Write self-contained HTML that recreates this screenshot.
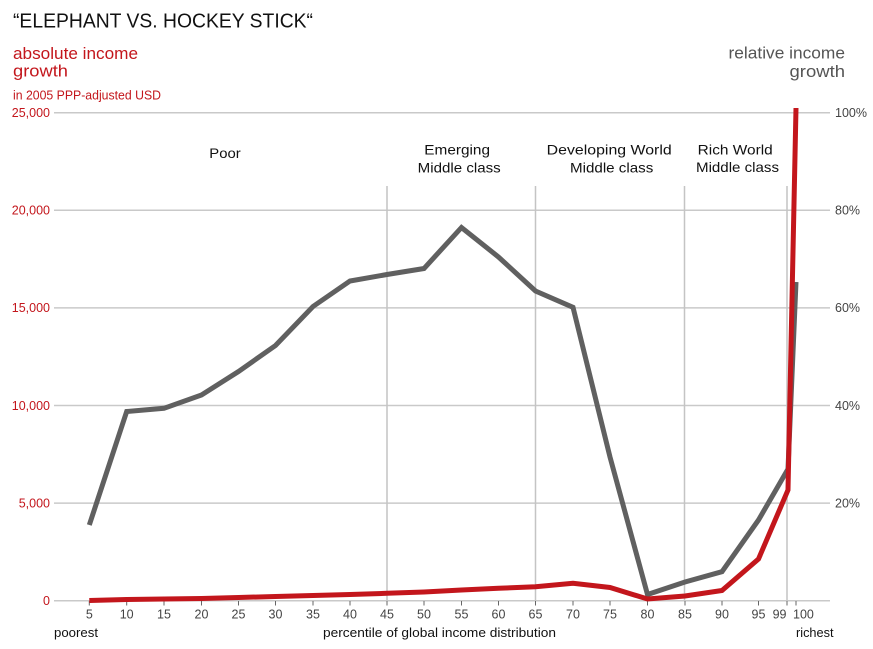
<!DOCTYPE html>
<html>
<head>
<meta charset="utf-8">
<style>
  html,body{margin:0;padding:0;background:#fff;}
  svg{display:block;}
  text{font-family:"Liberation Sans", "DejaVu Sans", sans-serif;}
</style>
</head>
<body>
<svg width="873" height="649" viewBox="0 0 873 649" xmlns="http://www.w3.org/2000/svg">
  <rect width="873" height="649" fill="#fff"/>

  <!-- Title -->
  <text x="13" y="27.5" font-size="20.5" fill="#111" textLength="300" lengthAdjust="spacingAndGlyphs">“ELEPHANT VS. HOCKEY STICK“</text>

  <!-- Left axis title -->
  <text x="13" y="59" font-size="16.5" fill="#c3161c" textLength="125" lengthAdjust="spacingAndGlyphs">absolute income</text>
  <text x="13" y="76.5" font-size="16.5" fill="#c3161c" textLength="55" lengthAdjust="spacingAndGlyphs">growth</text>
  <text x="13" y="99.5" font-size="12.5" fill="#c3161c" textLength="148" lengthAdjust="spacingAndGlyphs">in 2005 PPP-adjusted USD</text>

  <!-- Right axis title -->
  <text x="728.5" y="58.5" font-size="16.5" fill="#555" textLength="116.5" lengthAdjust="spacingAndGlyphs">relative income</text>
  <text x="789.5" y="77" font-size="16.5" fill="#555" textLength="55.5" lengthAdjust="spacingAndGlyphs">growth</text>

  <!-- Horizontal gridlines -->
  <g stroke="#c9c9c9" stroke-width="1.5">
    <line x1="54" y1="112.7" x2="830" y2="112.7"/>
    <line x1="54" y1="210.3" x2="830" y2="210.3"/>
    <line x1="54" y1="307.9" x2="830" y2="307.9"/>
    <line x1="54" y1="405.5" x2="830" y2="405.5"/>
    <line x1="54" y1="503.1" x2="830" y2="503.1"/>
    <line x1="54" y1="600.7" x2="830" y2="600.7"/>
  </g>

  <!-- Vertical separators -->
  <g stroke="#c4c4c4" stroke-width="1.5">
    <line x1="387" y1="186" x2="387" y2="600.7"/>
    <line x1="535.5" y1="186" x2="535.5" y2="600.7"/>
    <line x1="684.5" y1="186" x2="684.5" y2="600.7"/>
    <line x1="787" y1="186" x2="787" y2="600.7"/>
  </g>

  <!-- X ticks -->
  <g stroke="#666" stroke-width="1">
    <line x1="89.3" y1="601" x2="89.3" y2="605.5"/>
    <line x1="126.7" y1="601" x2="126.7" y2="605.5"/>
    <line x1="164" y1="601" x2="164" y2="605.5"/>
    <line x1="201.5" y1="601" x2="201.5" y2="605.5"/>
    <line x1="238.5" y1="601" x2="238.5" y2="605.5"/>
    <line x1="275.5" y1="601" x2="275.5" y2="605.5"/>
    <line x1="313" y1="601" x2="313" y2="605.5"/>
    <line x1="350" y1="601" x2="350" y2="605.5"/>
    <line x1="387" y1="601" x2="387" y2="605.5"/>
    <line x1="424" y1="601" x2="424" y2="605.5"/>
    <line x1="461.5" y1="601" x2="461.5" y2="605.5"/>
    <line x1="498.5" y1="601" x2="498.5" y2="605.5"/>
    <line x1="535.5" y1="601" x2="535.5" y2="605.5"/>
    <line x1="573" y1="601" x2="573" y2="605.5"/>
    <line x1="610" y1="601" x2="610" y2="605.5"/>
    <line x1="647.5" y1="601" x2="647.5" y2="605.5"/>
    <line x1="685" y1="601" x2="685" y2="605.5"/>
    <line x1="722" y1="601" x2="722" y2="605.5"/>
    <line x1="758.5" y1="601" x2="758.5" y2="605.5"/>
    <line x1="787" y1="601" x2="787" y2="605.5"/>
    <line x1="796" y1="601" x2="796" y2="605.5"/>
  </g>

  <!-- X tick labels -->
  <g font-size="12.5" fill="#444" text-anchor="middle">
    <text x="89.3" y="618.5">5</text>
    <text x="126.7" y="618.5">10</text>
    <text x="164" y="618.5">15</text>
    <text x="201.5" y="618.5">20</text>
    <text x="238.5" y="618.5">25</text>
    <text x="275.5" y="618.5">30</text>
    <text x="313" y="618.5">35</text>
    <text x="350" y="618.5">40</text>
    <text x="387" y="618.5">45</text>
    <text x="424" y="618.5">50</text>
    <text x="461.5" y="618.5">55</text>
    <text x="498.5" y="618.5">60</text>
    <text x="535.5" y="618.5">65</text>
    <text x="573" y="618.5">70</text>
    <text x="610" y="618.5">75</text>
    <text x="647.5" y="618.5">80</text>
    <text x="685" y="618.5">85</text>
    <text x="722" y="618.5">90</text>
    <text x="758.5" y="618.5">95</text>
  </g>
  <text x="786.5" y="618.5" font-size="12.5" fill="#444" text-anchor="end">99</text>
  <text x="793" y="618.5" font-size="12.5" fill="#444">100</text>

  <!-- X axis captions -->
  <text x="54" y="637" font-size="13" fill="#111" textLength="44" lengthAdjust="spacingAndGlyphs">poorest</text>
  <text x="323" y="637" font-size="13" fill="#111" textLength="233" lengthAdjust="spacingAndGlyphs">percentile of global income distribution</text>
  <text x="796" y="637" font-size="13" fill="#111" textLength="37.5" lengthAdjust="spacingAndGlyphs">richest</text>

  <!-- Left Y labels -->
  <g font-size="12.5" fill="#c3161c" text-anchor="end">
    <text x="50" y="117">25,000</text>
    <text x="50" y="214.6">20,000</text>
    <text x="50" y="312.2">15,000</text>
    <text x="50" y="409.8">10,000</text>
    <text x="50" y="507.4">5,000</text>
    <text x="50" y="605">0</text>
  </g>

  <!-- Right Y labels -->
  <g font-size="12.5" fill="#444">
    <text x="835" y="117">100%</text>
    <text x="835" y="214.6">80%</text>
    <text x="835" y="312.2">60%</text>
    <text x="835" y="409.8">40%</text>
    <text x="835" y="507.4">20%</text>
  </g>

  <!-- Category labels -->
  <g font-size="14" fill="#111">
    <text x="209.3" y="158" textLength="31.4" lengthAdjust="spacingAndGlyphs">Poor</text>
    <text x="424.3" y="154.5" textLength="65.7" lengthAdjust="spacingAndGlyphs">Emerging</text>
    <text x="417.7" y="172.5" textLength="83" lengthAdjust="spacingAndGlyphs">Middle class</text>
    <text x="546.7" y="154.5" textLength="125" lengthAdjust="spacingAndGlyphs">Developing World</text>
    <text x="570" y="172.5" textLength="83.3" lengthAdjust="spacingAndGlyphs">Middle class</text>
    <text x="697.7" y="154.5" textLength="75" lengthAdjust="spacingAndGlyphs">Rich World</text>
    <text x="696" y="172" textLength="83" lengthAdjust="spacingAndGlyphs">Middle class</text>
  </g>

  <!-- Gray series (relative) -->
  <polyline fill="none" stroke="#606060" stroke-width="5" stroke-linejoin="miter" stroke-linecap="butt"
    points="89.3,525 126.7,411.5 164,408.3 201.5,395 238.5,371.5 275.5,345.5 313,306.5 350,281 387,274.5 424,268.5 461.5,227.5 498.5,257 535.5,291 573,307.3 610,457 647.5,594.5 685,582 722,571.7 758.5,520 788,469 796,282"/>

  <!-- Red series (absolute) -->
  <polyline fill="none" stroke="#c3161c" stroke-width="5" stroke-linejoin="miter" stroke-linecap="butt"
    points="89.3,600.5 126.7,599.5 164,599 201.5,598.5 238.5,597.5 275.5,596.5 313,595.5 350,594.5 387,593.3 424,592 461.5,590 498.5,588.3 535.5,586.7 573,583.3 610,587.5 647.5,599 685,596 722,590.5 758.5,559 788,490 796,108"/>
</svg>
</body>
</html>
